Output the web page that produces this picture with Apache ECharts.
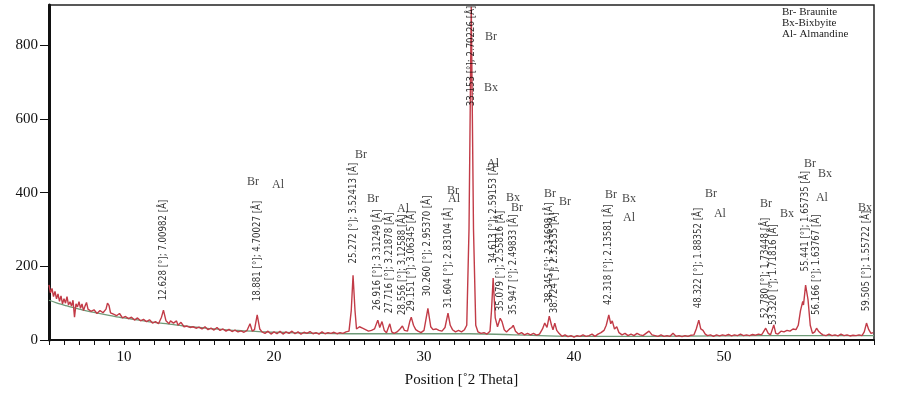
<!DOCTYPE html>
<html>
<head>
<meta charset="utf-8">
<script src="https://cdn.jsdelivr.net/npm/echarts@6/dist/echarts.min.js"></script>
<style>
  html, body { margin: 0; padding: 0; background: #fff; }
  #xrdChart { width: 903px; height: 393px; }
</style>
</head>
<body>
<div id="xrdChart"></div>
<script>
// measured pattern (2theta, counts)
var pattern = [
  [5.0,150],[5.1,128],[5.2,140],[5.3,118],[5.4,132],[5.5,112],[5.6,125],[5.7,105],[5.8,120],[5.9,98],
  [6.0,112],[6.1,100],[6.2,118],[6.3,95],[6.4,104],[6.5,92],[6.6,108],[6.7,62],[6.8,98],[6.9,90],
  [7.0,104],[7.1,86],[7.2,98],[7.3,80],[7.4,92],[7.5,102],[7.6,84],[7.8,78],[8.0,82],[8.2,72],
  [8.4,80],[8.6,74],[8.8,84],[8.9,100],[9.0,94],[9.1,74],[9.3,70],[9.5,66],[9.7,72],[9.9,60],
  [10.1,64],[10.3,58],[10.5,62],[10.7,54],[10.9,60],[11.1,52],[11.3,56],[11.5,50],[11.7,55],[11.9,46],
  [12.1,50],[12.3,44],[12.5,62],[12.63,81],[12.8,52],[13.0,44],[13.1,52],[13.3,46],[13.5,52],[13.6,40],
  [13.8,48],[14.0,36],[14.2,38],[14.4,34],[14.6,36],[14.8,32],[15.0,35],[15.2,30],[15.4,36],[15.6,28],
  [15.8,32],[16.0,27],[16.2,34],[16.4,26],[16.6,30],[16.8,24],[17.0,29],[17.2,23],[17.4,27],[17.6,22],
  [17.8,25],[18.0,21],[18.2,26],[18.4,44],[18.55,24],[18.7,28],[18.88,68],[19.05,30],[19.2,22],[19.4,18],
  [19.6,24],[19.8,16],[20.0,22],[20.2,17],[20.4,24],[20.6,16],[20.8,22],[21.0,18],[21.2,24],[21.4,17],
  [21.6,22],[21.8,16],[22.0,21],[22.2,18],[22.4,23],[22.6,17],[22.8,20],[23.0,16],[23.2,22],[23.4,17],
  [23.6,20],[23.8,18],[24.0,21],[24.2,17],[24.4,20],[24.6,18],[24.8,22],[25.0,24],[25.15,80],[25.27,176],
  [25.4,80],[25.5,30],[25.7,36],[25.9,32],[26.1,28],[26.3,24],[26.5,26],[26.7,30],[26.92,54],[27.05,34],
  [27.2,50],[27.35,26],[27.5,20],[27.72,44],[27.85,22],[28.0,18],[28.2,22],[28.4,30],[28.56,38],[28.7,26],
  [28.9,24],[29.05,50],[29.15,62],[29.3,40],[29.45,28],[29.6,24],[29.8,20],[30.0,26],[30.26,86],[30.45,36],
  [30.6,28],[30.8,30],[31.0,26],[31.2,24],[31.4,34],[31.6,73],[31.75,40],[31.9,28],[32.1,22],[32.3,26],
  [32.5,22],[32.7,28],[32.85,40],[33.0,300],[33.15,905],[33.3,300],[33.45,40],[33.6,22],[33.8,18],[34.0,20],
  [34.2,16],[34.4,24],[34.5,80],[34.61,168],[34.75,60],[34.9,36],[35.08,59],[35.2,50],[35.35,28],[35.5,22],
  [35.7,30],[35.85,34],[35.95,40],[36.1,24],[36.3,16],[36.5,20],[36.7,14],[36.9,18],[37.1,14],[37.3,18],
  [37.5,13],[37.7,16],[37.9,30],[38.05,46],[38.2,34],[38.35,65],[38.5,40],[38.6,28],[38.72,46],[38.85,26],
  [39.0,18],[39.2,10],[39.4,14],[39.6,9],[39.8,12],[40.0,8],[40.2,12],[40.4,10],[40.6,14],[40.8,10],
  [41.0,12],[41.2,16],[41.4,10],[41.6,16],[41.8,20],[42.0,26],[42.15,40],[42.32,68],[42.45,44],[42.55,52],
  [42.7,30],[42.85,36],[43.0,20],[43.2,14],[43.4,18],[43.6,12],[43.8,16],[44.0,12],[44.2,18],[44.4,14],
  [44.6,12],[44.8,18],[45.0,24],[45.2,14],[45.4,12],[45.6,10],[45.8,14],[46.0,10],[46.2,12],[46.4,10],
  [46.6,18],[46.8,10],[47.0,12],[47.2,9],[47.4,12],[47.6,10],[47.8,13],[48.0,14],[48.15,30],[48.32,54],
  [48.45,30],[48.6,26],[48.75,16],[48.9,12],[49.1,14],[49.3,10],[49.5,14],[49.7,11],[49.9,14],[50.1,12],
  [50.3,15],[50.5,11],[50.7,14],[50.9,12],[51.1,16],[51.3,12],[51.5,14],[51.7,12],[51.9,15],[52.1,13],
  [52.3,16],[52.5,14],[52.6,20],[52.78,32],[52.95,18],[53.1,14],[53.32,41],[53.45,18],[53.6,16],[53.8,24],
  [54.0,22],[54.2,26],[54.4,24],[54.6,30],[54.8,28],[54.95,40],[55.1,80],[55.25,105],[55.3,95],[55.44,149],
  [55.6,110],[55.75,40],[55.9,18],[56.05,22],[56.17,32],[56.3,24],[56.45,18],[56.6,14],[56.8,12],[57.0,16],
  [57.2,12],[57.4,14],[57.6,11],[57.8,16],[58.0,12],[58.2,14],[58.4,11],[58.6,13],[58.8,12],[59.0,14],
  [59.2,12],[59.35,22],[59.5,46],[59.65,28],[59.8,18],[59.95,20]
];

// fitted background
var background = [
  [5,108],[5.5,101],[6,95],[6.5,89],[7,84],[7.5,79],[8,75],[8.5,71],[9,67],[9.5,63],
  [10,60],[11,54],[12,48],[13,43],[14,38],[15,34],[16,30],[17,27],[18,25],[19,23],
  [20,21],[22,19],[25,17],[30,17],[33,17],[36,14],[40,10],[45,10],[50,11],[55,12],[60,12]
];

// peak annotations: [2theta, label base, text]
var peakLabels = [
  [12.628, 108, '12.628 [°]; 7.00982 [Å]'],
  [18.881, 105, '18.881 [°]; 4.70027 [Å]'],
  [25.272, 208, '25.272 [°]; 3.52413 [Å]'],
  [26.916, 81, '26.916 [°]; 3.31249 [Å]'],
  [27.716, 73, '27.716 [°]; 3.21878 [Å]'],
  [28.556, 68, '28.556 [°]; 3.12588 [Å]'],
  [29.151, 78, '29.151 [°]; 3.06345 [Å]'],
  [30.260, 119, '30.260 [°]; 2.95370 [Å]'],
  [31.604, 86, '31.604 [°]; 2.83104 [Å]'],
  [33.153, 635, '33.153 [°]; 2.70226 [Å]'],
  [34.613, 208, '34.613 [°]; 2.59153 [Å]'],
  [35.079, 78, '35.079 [°]; 2.55816 [Å]'],
  [35.947, 68, '35.947 [°]; 2.49833 [Å]'],
  [38.345, 100, '38.345 [°]; 2.34698 [Å]'],
  [38.724, 73, '38.724 [°]; 2.32535 [Å]'],
  [42.318, 95, '42.318 [°]; 2.13581 [Å]'],
  [48.322, 86, '48.322 [°]; 1.88352 [Å]'],
  [52.780, 59, '52.780 [°]; 1.73448 [Å]'],
  [53.320, 41, '53.320 [°]; 1.71816 [Å]'],
  [55.441, 186, '55.441 [°]; 1.65735 [Å]'],
  [56.166, 68, '56.166 [°]; 1.63767 [Å]'],
  [59.505, 78, '59.505 [°]; 1.55722 [Å]']
];

// phase marks: [2theta, y, phase]
var phaseMarks = [
  [18.6, 430, 'Br'], [20.27, 422, 'Al'],
  [25.8, 503, 'Br'], [26.6, 384, 'Br'], [28.6, 357, 'Al'],
  [31.93, 405, 'Br'], [32.0, 384, 'Al'],
  [34.47, 824, 'Br'], [34.47, 684, 'Bx'], [34.6, 478, 'Al'],
  [35.93, 387, 'Bx'], [36.2, 359, 'Br'],
  [38.4, 397, 'Br'], [39.4, 376, 'Br'],
  [42.47, 395, 'Br'], [43.67, 384, 'Bx'], [43.67, 332, 'Al'],
  [49.13, 397, 'Br'], [49.73, 343, 'Al'],
  [52.8, 370, 'Br'], [54.2, 343, 'Bx'],
  [55.73, 478, 'Br'], [56.73, 451, 'Bx'], [56.53, 387, 'Al'],
  [59.4, 360, 'Bx']
];

var legendLines = ['Br- Braunite', 'Bx-Bixbyite', 'Al- Almandine'];
var xLabelValues = [10, 20, 30, 40, 50];
var yLabelValues = [0, 200, 400, 600, 800];

var serif = '"Liberation Serif", "DejaVu Serif", serif';
var narrow = '"DejaVu Sans Condensed", "Liberation Sans", sans-serif';

var chart = echarts.init(document.getElementById('xrdChart'));
var option = {
  animation: false,
  grid: {
    left: 49, right: 29, top: 5, bottom: 51,
    show: true,
    borderColor: '#222',
    borderWidth: 1.5
  },
  graphic: [{
    type: 'text',
    left: 782,
    top: 7,
    style: {
      text: legendLines.join('\n'),
      font: '11px ' + serif,
      lineHeight: 11,
      fill: '#222'
    }
  }],
  xAxis: {
    type: 'value',
    min: 5,
    max: 60,
    interval: 1,
    name: 'Position [˚2 Theta]',
    nameLocation: 'middle',
    nameGap: 33,
    nameTextStyle: { fontFamily: serif, fontSize: 15, color: '#111' },
    axisLine: { show: true, lineStyle: { color: '#111', width: 2 } },
    axisTick: { show: true, length: 5, lineStyle: { color: '#111', width: 1 } },
    axisLabel: {
      customValues: xLabelValues,
      fontFamily: serif,
      fontSize: 15,
      color: '#111',
      margin: 10
    },
    splitLine: { show: false }
  },
  yAxis: {
    type: 'value',
    min: 0,
    max: 910,
    axisLine: { show: true, lineStyle: { color: '#111', width: 3 } },
    axisTick: { show: true, customValues: yLabelValues, length: 9, lineStyle: { color: '#111', width: 1 } },
    axisLabel: {
      customValues: yLabelValues,
      fontFamily: serif,
      fontSize: 15,
      color: '#111',
      margin: 11
    },
    splitLine: { show: false }
  },
  series: [
    {
      name: 'background',
      type: 'line',
      data: background,
      smooth: true,
      showSymbol: false,
      lineStyle: { color: '#6f9a78', width: 1.3 },
      z: 2
    },
    {
      name: 'pattern',
      type: 'line',
      data: pattern,
      showSymbol: false,
      lineStyle: { color: '#c23b47', width: 1.4 },
      z: 3
    },
    {
      name: 'peaks',
      type: 'scatter',
      symbolSize: 0,
      data: peakLabels,
      z: 4,
      label: {
        show: true,
        position: 'inside',
        rotate: 90,
        align: 'left',
        verticalAlign: 'middle',
        fontFamily: narrow,
        fontSize: 9.6,
        color: '#000',
        formatter: function (p) { return p.data[2]; }
      }
    },
    {
      name: 'phases',
      type: 'scatter',
      symbolSize: 0,
      data: phaseMarks,
      z: 4,
      label: {
        show: true,
        position: 'inside',
        fontFamily: serif,
        fontSize: 12,
        color: '#111',
        formatter: function (p) { return p.data[2]; }
      }
    }
  ]
};
chart.setOption(option);
</script>
</body>
</html>
